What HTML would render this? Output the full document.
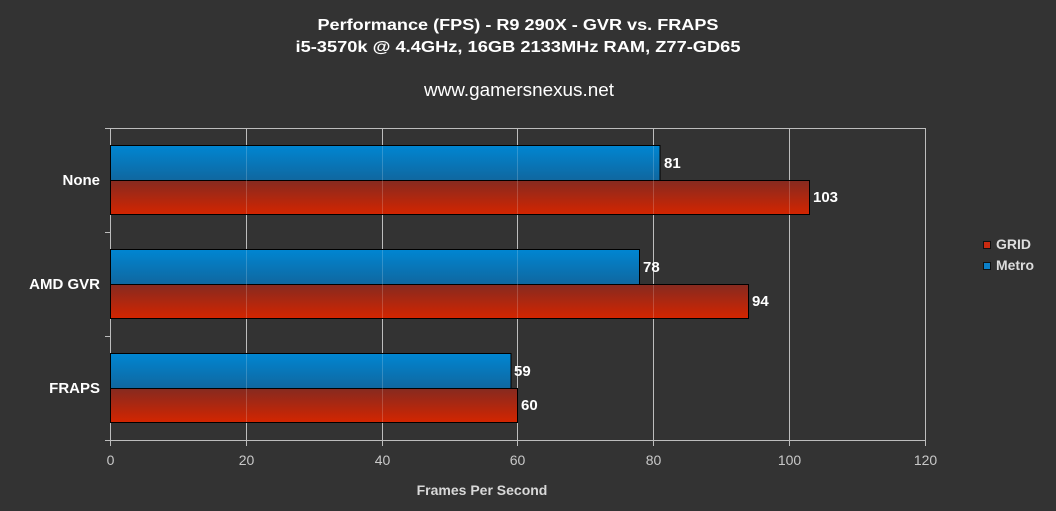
<!DOCTYPE html>
<html><head><meta charset="utf-8"><style>
html,body{margin:0;padding:0;background:#333333;}
svg{display:block;}
text{font-family:"Liberation Sans",Arial,sans-serif;}
</style></head><body>
<svg width="1056" height="511" viewBox="0 0 1056 511" xmlns="http://www.w3.org/2000/svg">
<defs>
<linearGradient id="gb" x1="0" y1="0" x2="0" y2="1">
<stop offset="0" stop-color="#0086d2"/><stop offset="1" stop-color="#10679f"/>
</linearGradient>
<linearGradient id="gr" x1="0" y1="0" x2="0" y2="1">
<stop offset="0" stop-color="#862a20"/><stop offset="1" stop-color="#d42500"/>
</linearGradient>
</defs>
<rect width="1056" height="511" fill="#333333"/>
<!-- titles -->
<text x="518" y="30" text-anchor="middle" font-size="16" font-weight="bold" fill="#ffffff" textLength="401" lengthAdjust="spacingAndGlyphs">Performance (FPS) - R9 290X - GVR vs. FRAPS</text>
<text x="518" y="52" text-anchor="middle" font-size="16" font-weight="bold" fill="#ffffff" textLength="445" lengthAdjust="spacingAndGlyphs">i5-3570k @ 4.4GHz, 16GB 2133MHz RAM, Z77-GD65</text>
<text x="519" y="96" text-anchor="middle" font-size="18" fill="#ffffff" textLength="190" lengthAdjust="spacingAndGlyphs">www.gamersnexus.net</text>
<!-- grid -->
<g stroke="#bdbdbd" stroke-width="1">
<line x1="105" y1="128.5" x2="925.5" y2="128.5"/>
<line x1="105" y1="440.5" x2="925.5" y2="440.5"/>
<line x1="110.5" y1="128" x2="110.5" y2="446"/>
<line x1="246.5" y1="128" x2="246.5" y2="446"/>
<line x1="382.5" y1="128" x2="382.5" y2="446"/>
<line x1="517.5" y1="128" x2="517.5" y2="446"/>
<line x1="653.5" y1="128" x2="653.5" y2="446"/>
<line x1="789.5" y1="128" x2="789.5" y2="446"/>
<line x1="925.5" y1="128" x2="925.5" y2="446"/>
<line x1="105" y1="232.5" x2="110" y2="232.5"/>
<line x1="105" y1="336.5" x2="110" y2="336.5"/>
</g>
<!-- bars -->
<g stroke="#000" stroke-width="1">
<rect x="110.5" y="145.5" width="549.5" height="35" fill="url(#gb)"/>
<rect x="110.5" y="180.5" width="699" height="34" fill="url(#gr)"/>
<rect x="110.5" y="249.5" width="529" height="35" fill="url(#gb)"/>
<rect x="110.5" y="284.5" width="638" height="34" fill="url(#gr)"/>
<rect x="110.5" y="353.5" width="400.5" height="35" fill="url(#gb)"/>
<rect x="110.5" y="388.5" width="407" height="34" fill="url(#gr)"/>
</g>
<!-- faint grid over bars -->
<g stroke="#ffffff" stroke-opacity="0.18" stroke-width="1">
<line x1="246.5" y1="146" x2="246.5" y2="214"/>
<line x1="382.5" y1="146" x2="382.5" y2="214"/>
<line x1="517.5" y1="146" x2="517.5" y2="214"/>
<line x1="653.5" y1="146" x2="653.5" y2="214"/>
<line x1="789.5" y1="181" x2="789.5" y2="214"/>
<line x1="246.5" y1="250" x2="246.5" y2="318"/>
<line x1="382.5" y1="250" x2="382.5" y2="318"/>
<line x1="517.5" y1="250" x2="517.5" y2="318"/>
<line x1="653.5" y1="285" x2="653.5" y2="318"/>
<line x1="246.5" y1="354" x2="246.5" y2="422"/>
<line x1="382.5" y1="354" x2="382.5" y2="422"/>
</g>
<!-- value labels -->
<g font-size="15" font-weight="bold" fill="#ffffff">
<text x="664" y="168">81</text>
<text x="813" y="202">103</text>
<text x="643" y="272">78</text>
<text x="752" y="306">94</text>
<text x="514" y="376">59</text>
<text x="521" y="410">60</text>
</g>
<!-- category labels -->
<g font-size="15" font-weight="bold" fill="#ffffff" text-anchor="end">
<text x="100" y="185">None</text>
<text x="100" y="289">AMD GVR</text>
<text x="100" y="393">FRAPS</text>
</g>
<!-- x ticks -->
<g font-size="14" fill="#c8c8c8" text-anchor="middle">
<text x="110.5" y="465">0</text>
<text x="246.5" y="465">20</text>
<text x="382.5" y="465">40</text>
<text x="517.5" y="465">60</text>
<text x="653.5" y="465">80</text>
<text x="789.5" y="465">100</text>
<text x="925.5" y="465">120</text>
</g>
<text x="482" y="495" text-anchor="middle" font-size="14" font-weight="bold" fill="#d8d8d8">Frames Per Second</text>
<!-- legend -->
<rect x="983.5" y="241.5" width="7" height="7" fill="#c92a10" stroke="#111" stroke-width="1"/>
<text x="996" y="249" font-size="14" font-weight="bold" fill="#dddddd">GRID</text>
<rect x="983.5" y="262.5" width="7" height="7" fill="#0a7fc8" stroke="#111" stroke-width="1"/>
<text x="996" y="270" font-size="14" font-weight="bold" fill="#dddddd" textLength="38" lengthAdjust="spacingAndGlyphs">Metro</text>
</svg>
</body></html>
